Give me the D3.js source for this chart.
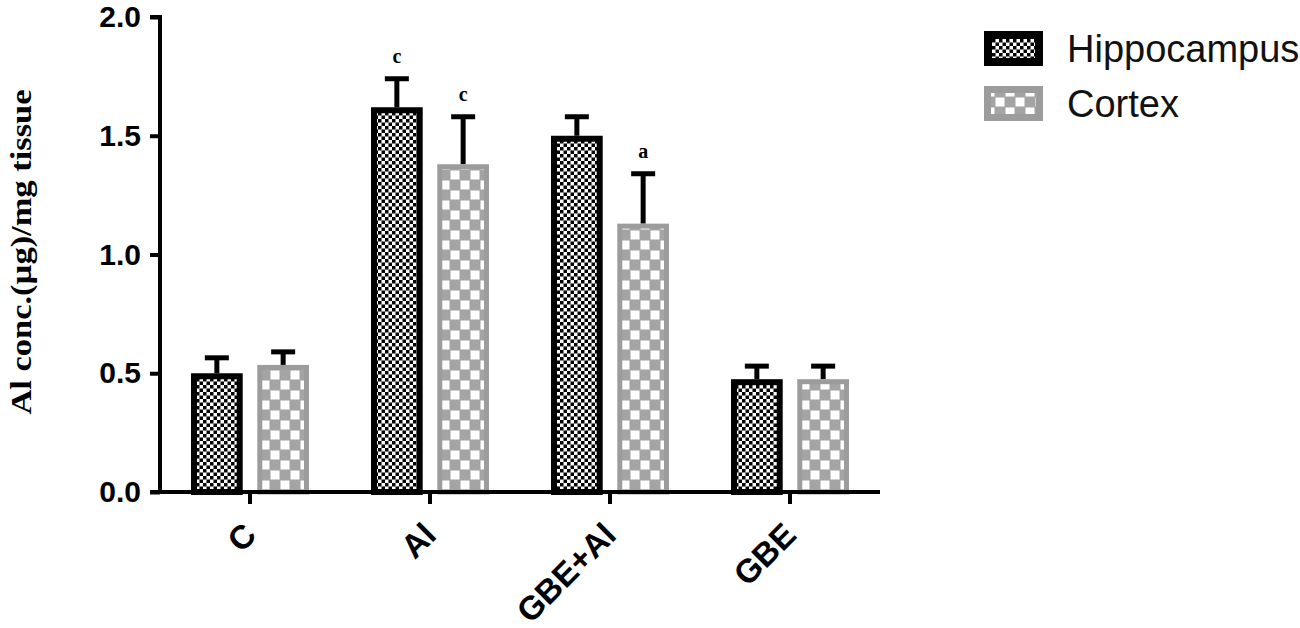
<!DOCTYPE html>
<html>
<head>
<meta charset="utf-8">
<script src="https://cdnjs.cloudflare.com/ajax/libs/d3/7.8.5/d3.min.js"></script>
<style>
  body { margin: 0; background: #fff; }
  svg { display: block; }
</style>
</head>
<body>
<script>
var groups = ['C', 'Al', 'GBE+Al', 'GBE'];
var series = ['Hippocampus', 'Cortex'];
var hippoMean = [0.50, 1.62, 1.50, 0.475];
var hippoSD = [0.065, 0.12, 0.08, 0.055];
var cortexMean = [0.535, 1.38, 1.13, 0.475];
var cortexSD = [0.055, 0.20, 0.21, 0.055];
var hippoSig = ['', 'c', '', ''];
var cortexSig = ['', 'c', 'a', ''];
var yTicks = [0, 0.5, 1.0, 1.5, 2.0];

var W = 1300, H = 628;
var sansBold = 'Arial, "Liberation Sans", sans-serif';

var svg = d3.select('body').append('svg')
    .attr('width', W)
    .attr('height', H);

// patterns
var defs = svg.append('defs');
var p1 = defs.append('pattern')
    .attr('id', 'pHippo')
    .attr('patternUnits', 'userSpaceOnUse')
    .attr('width', 7).attr('height', 7);
p1.append('rect').attr('width', 7).attr('height', 7).attr('fill', '#fff');
p1.append('rect').attr('width', 3.5).attr('height', 3.5).attr('fill', '#000');
p1.append('rect').attr('x', 3.5).attr('y', 3.5).attr('width', 3.5).attr('height', 3.5).attr('fill', '#000');

var p2 = defs.append('pattern')
    .attr('id', 'pCortex')
    .attr('patternUnits', 'userSpaceOnUse')
    .attr('width', 20).attr('height', 20);
p2.append('rect').attr('width', 20).attr('height', 20).attr('fill', '#a4a4a4');
p2.append('rect').attr('x', 0.5).attr('y', 0.5).attr('width', 9).attr('height', 9).attr('fill', '#fff');
p2.append('rect').attr('x', 10.5).attr('y', 10.5).attr('width', 9).attr('height', 9).attr('fill', '#fff');

var y = d3.scaleLinear().domain([0, 2]).range([492, 17]);
var x0 = d3.scaleBand().domain(groups).range([160, 880]).padding(0);
var x1 = d3.scaleBand().domain(series)
    .range([x0.bandwidth() / 2 - 59, x0.bandwidth() / 2 + 59])
    .paddingInner(0.22);

var styles = {
  Hippocampus: { fill: 'url(#pHippo)', stroke: '#000', sw: 6 },
  Cortex: { fill: 'url(#pCortex)', stroke: '#9c9c9c', sw: 5 }
};

var rows = [];
groups.forEach(function(g, i) {
  rows.push({ g: g, s: 'Hippocampus', m: hippoMean[i], sd: hippoSD[i], sig: hippoSig[i] });
  rows.push({ g: g, s: 'Cortex', m: cortexMean[i], sd: cortexSD[i], sig: cortexSig[i] });
});

function cx(d) { return x0(d.g) + x1(d.s) + x1.bandwidth() / 2; }

// error bars (drawn first so bar borders sit on top)
var err = svg.append('g');
err.selectAll('line.stem')
    .data(rows)
    .enter().append('line')
    .attr('class', 'stem')
    .attr('x1', cx).attr('x2', cx)
    .attr('y1', function(d) { return y(d.m); })
    .attr('y2', function(d) { return y(d.m + d.sd); })
    .attr('stroke', '#000')
    .attr('stroke-width', 5);
err.selectAll('line.cap')
    .data(rows)
    .enter().append('line')
    .attr('class', 'cap')
    .attr('x1', function(d) { return cx(d) - 12; })
    .attr('x2', function(d) { return cx(d) + 12; })
    .attr('y1', function(d) { return y(d.m + d.sd); })
    .attr('y2', function(d) { return y(d.m + d.sd); })
    .attr('stroke', '#000')
    .attr('stroke-width', 5);

// bars
svg.append('g').selectAll('rect')
    .data(rows)
    .enter().append('rect')
    .attr('x', function(d) { return x0(d.g) + x1(d.s) + styles[d.s].sw / 2; })
    .attr('y', function(d) { return y(d.m) + styles[d.s].sw / 2; })
    .attr('width', function(d) { return x1.bandwidth() - styles[d.s].sw; })
    .attr('height', function(d) { return y(0) - y(d.m) - styles[d.s].sw / 2; })
    .attr('fill', function(d) { return styles[d.s].fill; })
    .attr('stroke', function(d) { return styles[d.s].stroke; })
    .attr('stroke-width', function(d) { return styles[d.s].sw; });

// significance letters
svg.append('g').selectAll('text')
    .data(rows.filter(function(d) { return d.sig; }))
    .enter().append('text')
    .attr('x', cx)
    .attr('y', function(d) { return y(d.m + d.sd) - 16; })
    .attr('text-anchor', 'middle')
    .attr('font-family', '"Liberation Serif", "Times New Roman", serif')
    .attr('font-weight', 'bold')
    .attr('font-size', 20)
    .text(function(d) { return d.sig; });

// y axis
var yAxis = d3.axisLeft(y).tickValues(yTicks).tickFormat(d3.format('.1f')).tickSize(10).tickPadding(9);
var gy = svg.append('g')
    .attr('transform', 'translate(160,0)')
    .call(yAxis);
gy.select('.domain').attr('stroke-width', 4).attr('d', 'M-10,' + y(2) + 'H0V' + y(0) + 'H-10');
gy.selectAll('.tick line').attr('stroke-width', 4);
gy.selectAll('.tick text')
    .attr('font-family', sansBold)
    .attr('font-weight', 'bold')
    .attr('font-size', 30)
    .attr('fill', '#000');

// x axis
var xAxis = d3.axisBottom(x0).tickSize(12).tickSizeOuter(0);
var gx = svg.append('g')
    .attr('transform', 'translate(0,492)')
    .call(xAxis);
gx.select('.domain').attr('stroke-width', 4).attr('d', 'M158,0H880');
gx.selectAll('.tick line').attr('stroke-width', 4);
gx.selectAll('.tick text')
    .attr('font-family', sansBold)
    .attr('font-weight', 'bold')
    .attr('font-size', 33)
    .attr('fill', '#000')
    .attr('text-anchor', 'end')
    .attr('y', 0).attr('dy', 0)
    .attr('transform', 'translate(8,45) rotate(-45)');

// y title
svg.append('text')
    .attr('transform', 'translate(31,252) rotate(-90)')
    .attr('text-anchor', 'middle')
    .attr('font-family', '"Liberation Serif", "Times New Roman", serif')
    .attr('font-weight', 'bold')
    .attr('font-size', 30)
    .attr('textLength', 325)
    .attr('lengthAdjust', 'spacingAndGlyphs')
    .text('Al conc.(\u00b5g)/mg tissue');

// legend
var leg = svg.append('g').selectAll('g')
    .data(series)
    .enter().append('g')
    .attr('transform', function(d, i) { return 'translate(985,' + (32 + i * 55) + ')'; });
leg.append('rect')
    .attr('x', function(d) { return styles[d].sw / 2; })
    .attr('y', function(d) { return styles[d].sw / 2; })
    .attr('width', function(d) { return 57 - styles[d].sw; })
    .attr('height', function(d) { return 33 - styles[d].sw; })
    .attr('fill', function(d) { return styles[d].fill; })
    .attr('stroke', function(d) { return styles[d].stroke; })
    .attr('stroke-width', function(d) { return styles[d].sw + 2; });
leg.append('text')
    .attr('x', 82)
    .attr('y', 30)
    .attr('font-family', 'Arial, "Liberation Sans", sans-serif')
    .attr('font-size', 38)
    .attr('fill', '#111')
    .text(function(d) { return d; });
</script>
</body>
</html>
